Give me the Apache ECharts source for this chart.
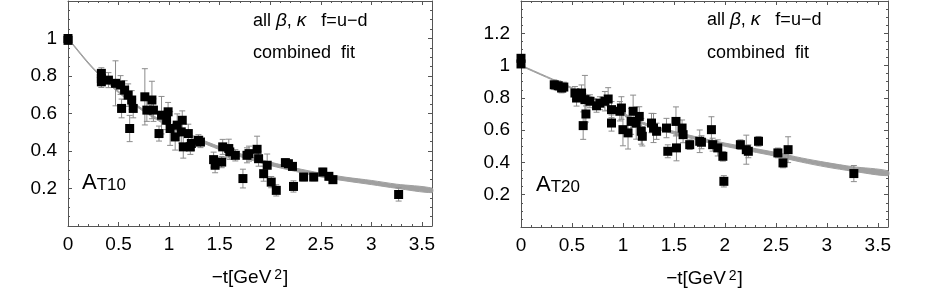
<!DOCTYPE html>
<html><head><meta charset="utf-8">
<script src="https://cdn.jsdelivr.net/npm/echarts@6/dist/echarts.min.js"></script>
<style>html,body{margin:0;padding:0;background:#fff}#c{width:926px;height:297px}</style>
</head><body><div id="c"></div>
<script>
// ---- data ----
const leftX   = [0,0,0.33,0.33,0.33,0.40,0.47,0.52,0.53,0.56,0.595,0.61,0.63,0.645,0.76,0.78,0.83,0.845,0.90,0.925,0.99,0.975,1.01,1.06,1.08,1.12,1.13,1.14,1.19,1.21,1.22,1.29,1.31,1.44,1.455,1.52,1.53,1.59,1.60,1.655,1.73,1.77,1.79,1.87,1.885,1.935,1.97,2.01,2.06,2.15,2.18,2.22,2.23,2.33,2.43,2.52,2.58,2.62,3.27];
const leftY   = [1.0,0.99,0.814,0.787,0.769,0.778,0.761,0.752,0.627,0.725,0.698,0.520,0.672,0.627,0.689,0.618,0.672,0.618,0.493,0.591,0.609,0.564,0.520,0.475,0.538,0.502,0.564,0.422,0.493,0.422,0.440,0.457,0.448,0.354,0.324,0.341,0.422,0.413,0.395,0.377,0.253,0.377,0.386,0.409,0.359,0.279,0.324,0.234,0.190,0.338,0.332,0.318,0.211,0.261,0.261,0.288,0.265,0.247,0.168];
const leftErr = [0.02,0.01,0.03,0.03,0.03,0.04,0.12,0.05,0.05,0.05,0.06,0.07,0.05,0.05,0.15,0.06,0.10,0.06,0.04,0.10,0.05,0.05,0.09,0.07,0.06,0.06,0.05,0.06,0.05,0.04,0.04,0.03,0.03,0.04,0.04,0.03,0.04,0.05,0.04,0.03,0.05,0.04,0.04,0.07,0.04,0.04,0.06,0.03,0.03,0.02,0.02,0.02,0.03,0.02,0.02,0.02,0.02,0.02,0.035];

const rightX   = [0,0,0.326,0.365,0.398,0.42,0.529,0.545,0.594,0.61,0.627,0.637,0.676,0.741,0.774,0.823,0.855,0.888,0.888,0.97,0.985,1.0,1.05,1.08,1.10,1.13,1.16,1.18,1.19,1.28,1.30,1.33,1.427,1.44,1.52,1.525,1.58,1.59,1.655,1.753,1.77,1.868,1.88,1.93,1.98,1.99,2.152,2.21,2.23,2.33,2.52,2.57,2.62,3.265];
const rightY   = [1.045,1.01,0.881,0.875,0.861,0.867,0.830,0.799,0.830,0.628,0.789,0.700,0.779,0.751,0.767,0.779,0.793,0.644,0.727,0.717,0.737,0.603,0.583,0.654,0.717,0.644,0.685,0.593,0.562,0.644,0.613,0.593,0.613,0.469,0.654,0.490,0.613,0.572,0.510,0.531,0.525,0.603,0.510,0.490,0.438,0.283,0.510,0.479,0.469,0.531,0.459,0.397,0.479,0.331];
const rightErr = [0.02,0.02,0.03,0.03,0.03,0.03,0.04,0.05,0.05,0.085,0.15,0.05,0.04,0.04,0.04,0.06,0.07,0.05,0.05,0.06,0.07,0.10,0.10,0.08,0.10,0.10,0.06,0.08,0.06,0.06,0.09,0.05,0.06,0.04,0.09,0.08,0.05,0.05,0.03,0.07,0.04,0.08,0.04,0.05,0.03,0.035,0.03,0.09,0.04,0.03,0.03,0.03,0.08,0.05];

const fitX         = [0,0.25,0.5,0.75,1,1.25,1.5,1.75,2,2.25,2.5,2.75,3,3.25,3.6];
const leftFit      = [1,0.84,0.715,0.615,0.535,0.47,0.415,0.37,0.332,0.3,0.272,0.25,0.232,0.212,0.19];
const leftFitHalf  = [0.002,0.003,0.004,0.005,0.006,0.007,0.008,0.008,0.009,0.009,0.010,0.010,0.011,0.011,0.012];
const rightFit     = [1,0.93,0.86,0.785,0.70,0.63,0.585,0.545,0.51,0.48,0.45,0.415,0.385,0.36,0.333];
const rightFitHalf = [0.002,0.003,0.004,0.005,0.006,0.007,0.008,0.009,0.010,0.011,0.012,0.013,0.014,0.014,0.015];

const xTickStep = 0.5, yTickStep = 0.2;
const xMax = 3.6, leftYMax = 1.2, rightYMax = 1.4;
const panelNames = ['T10','T20'];

// ---- chart ----
const FONT = "'Liberation Sans', Arial, sans-serif";
const chart = echarts.init(document.getElementById('c'), null, {renderer:'canvas'});

function fmtX(v){ const r = Math.round(v/xTickStep); return Math.abs(r*xTickStep - v) < 1e-6 ? String(+v.toFixed(2)) : ''; }
function fmtY(max){ return function(v){ if (v <= 1e-9 || v >= max - 1e-9) return ''; return String(+v.toFixed(2)); }; }

const frameColor = '#555';
function xAxisPair(g){
  const common = {gridIndex:g, type:'value', min:0, max:xMax, interval:xTickStep,
    axisLine:{onZero:false, lineStyle:{color:frameColor, width:1}},
    axisTick:{inside:true, length:4, lineStyle:{color:frameColor}},
    minorTick:{show:true, splitNumber:5, length:2, lineStyle:{color:frameColor}},
    splitLine:{show:false}, minorSplitLine:{show:false}};
  return [
    Object.assign({}, common, {position:'bottom',
      axisLabel:{formatter:fmtX, color:'#000', fontSize:19, fontFamily:FONT, margin:9},
      name:'{b|−t[GeV}{s|2}{b|]}', nameLocation:'middle', nameGap:42,
      nameTextStyle:{color:'#000', fontFamily:FONT, fontSize:19, rich:{
        b:{fontSize:19, fontFamily:FONT, color:'#000', verticalAlign:'bottom'},
        s:{fontSize:14, fontFamily:FONT, color:'#000', verticalAlign:'top', padding:[0,1,0,3]}}}}),
    Object.assign({}, common, {position:'top', axisLabel:{show:false}})
  ];
}
function yAxisPair(g, max){
  const common = {gridIndex:g, type:'value', min:0, max:max, interval:yTickStep,
    axisLine:{onZero:false, lineStyle:{color:frameColor, width:1}},
    axisTick:{inside:true, length:4, lineStyle:{color:frameColor}},
    minorTick:{show:true, splitNumber:4, length:2, lineStyle:{color:frameColor}},
    splitLine:{show:false}, minorSplitLine:{show:false}};
  return [
    Object.assign({}, common, {position:'left',
      axisLabel:{formatter:fmtY(max), color:'#000', fontSize:19, fontFamily:FONT, margin:11}}),
    Object.assign({}, common, {position:'right', axisLabel:{show:false}})
  ];
}

function bandSeries(xi, yi, fit, half){
  return {type:'custom', xAxisIndex:xi, yAxisIndex:yi, silent:true, z:2,
    data:[[0, fit[0]]],
    renderItem:function(params, api){
      const pts = [];
      for (let i=0;i<fitX.length;i++) pts.push(api.coord([fitX[i], fit[i]+half[i]]));
      for (let i=fitX.length-1;i>=0;i--) pts.push(api.coord([fitX[i], fit[i]-half[i]]));
      return {type:'polygon', shape:{points:pts, smooth:0.3},
        style:{fill:'#a0a0a0', stroke:'#a0a0a0', lineWidth:1}};
    }};
}
function errSeries(xi, yi, xs, ys, es){
  return {type:'custom', xAxisIndex:xi, yAxisIndex:yi, silent:true, z:3,
    data: xs.map((x,i)=>[x, ys[i], es[i]]),
    renderItem:function(params, api){
      const x = api.value(0), y = api.value(1), e = api.value(2);
      const t = api.coord([x, y+e]), b = api.coord([x, y-e]);
      const c = 3, st = {stroke:'#8c8c8c', lineWidth:1};
      return {type:'group', children:[
        {type:'line', shape:{x1:t[0], y1:t[1], x2:b[0], y2:b[1]}, style:st},
        {type:'line', shape:{x1:t[0]-c, y1:t[1], x2:t[0]+c, y2:t[1]}, style:st},
        {type:'line', shape:{x1:b[0]-c, y1:b[1], x2:b[0]+c, y2:b[1]}, style:st}
      ]};
    }};
}
function ptSeries(xi, yi, xs, ys){
  return {type:'scatter', xAxisIndex:xi, yAxisIndex:yi, z:4, silent:true,
    symbol:'rect', symbolSize:9, itemStyle:{color:'#000', opacity:1},
    data: xs.map((x,i)=>[x, ys[i]])};
}

const xs = xAxisPair(0).concat(xAxisPair(1));
const ys = yAxisPair(0, leftYMax).concat(yAxisPair(1, rightYMax));

function label(x, y, text, rich){
  return {type:'text', x:x, y:y, silent:true,
    style:{text:text, fill:'#000', fontSize:18, fontFamily:FONT,
      verticalAlign:'middle', align:'left', rich:rich}};
}
const lineRich = {t:{fontSize:18, fontFamily:FONT, color:'#000'},
                  g:{fontStyle:'italic', fontSize:19, fontFamily:FONT, color:'#000'}};
const subRich = {a:{fontSize:22, fontFamily:FONT, color:'#000', verticalAlign:'bottom'},
                 s:{fontSize:17, fontFamily:FONT, color:'#000', verticalAlign:'bottom'}};
const line1 = '{t|all }{g|β}{t|, }{g|κ}{t|   f=u−d}';
const line2 = '{t|combined  fit}';

chart.setOption({
  animation:false,
  backgroundColor:'#fff',
  grid:[{left:68, top:1, width:364, height:225}, {left:521, top:1, width:367, height:226}],
  xAxis: xs, yAxis: ys,
  series:[
    bandSeries(0,0,leftFit,leftFitHalf),
    errSeries(0,0,leftX,leftY,leftErr),
    ptSeries(0,0,leftX,leftY),
    bandSeries(2,2,rightFit,rightFitHalf),
    errSeries(2,2,rightX,rightY,rightErr),
    ptSeries(2,2,rightX,rightY)
  ],
  graphic:[
    label(253, 21, line1, lineRich),
    label(253, 53, line2, lineRich),
    label(707, 20, line1, lineRich),
    label(707, 53, line2, lineRich),
    label(82, 183, '{a|A}{s|' + panelNames[0] + '}', subRich),
    label(536, 185, '{a|A}{s|' + panelNames[1] + '}', subRich)
  ]
});
</script></body></html>
